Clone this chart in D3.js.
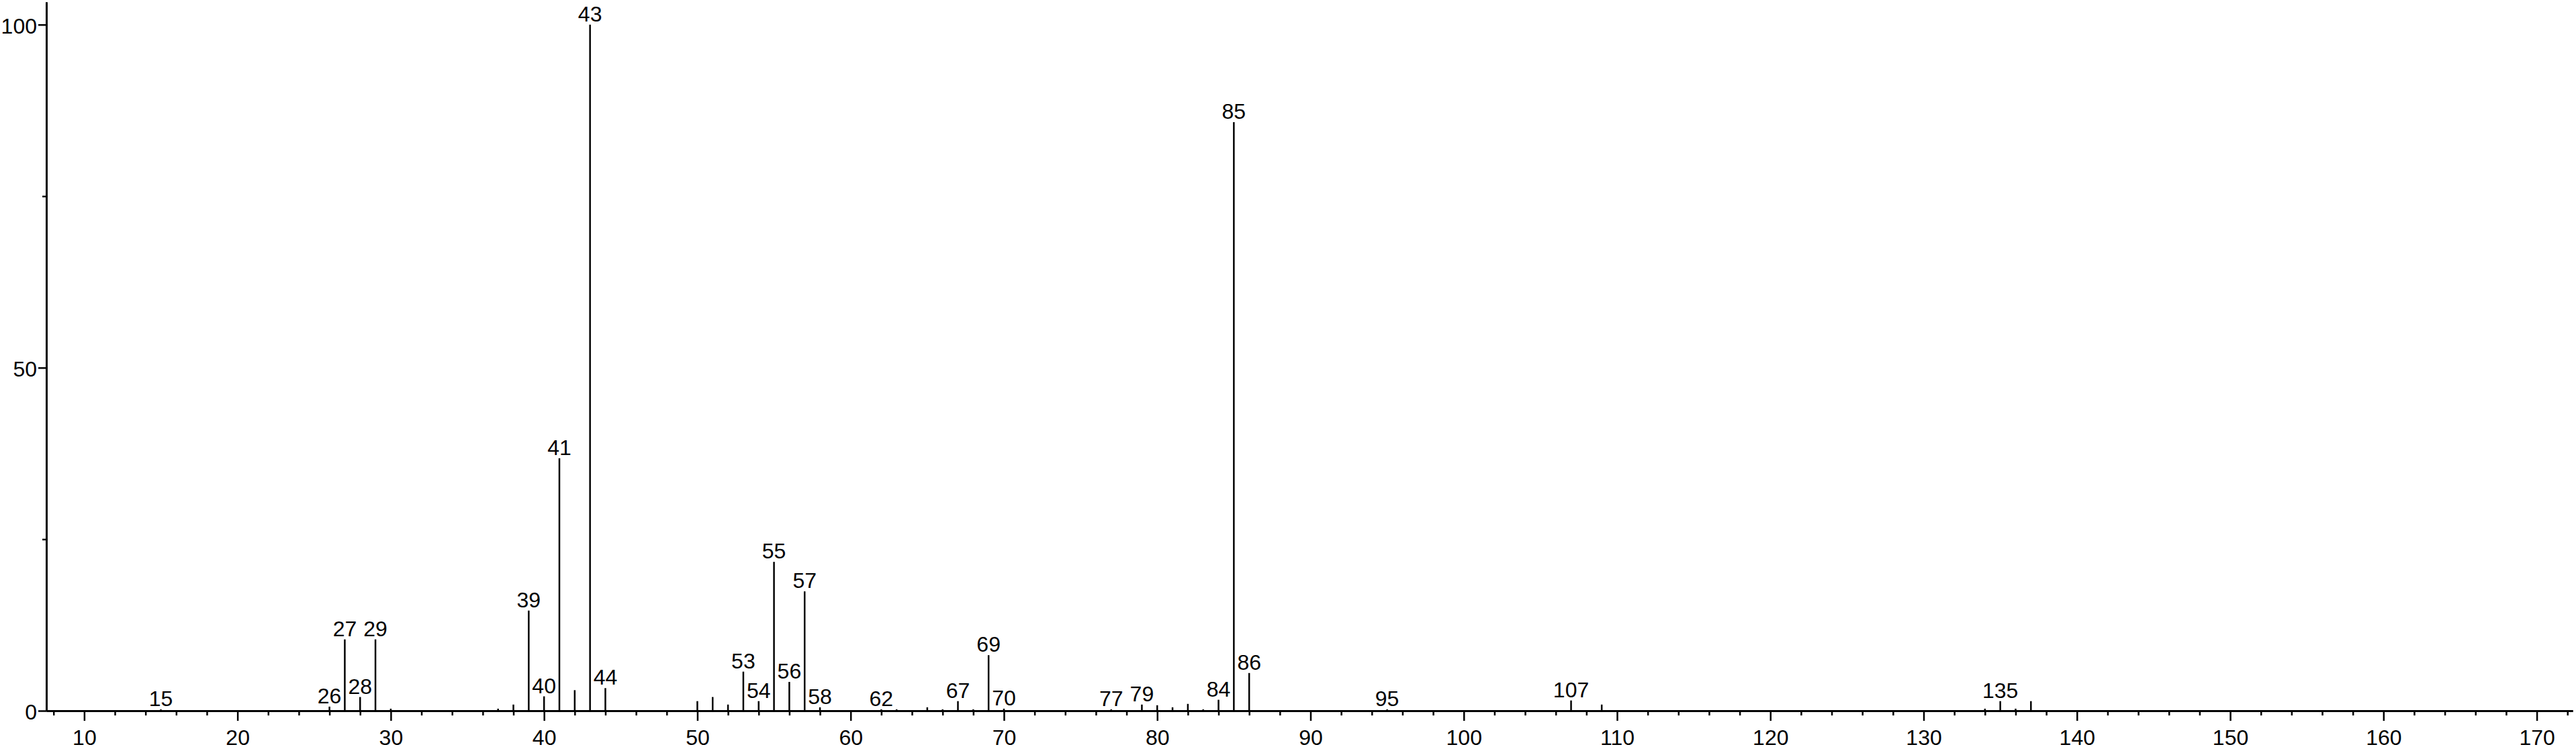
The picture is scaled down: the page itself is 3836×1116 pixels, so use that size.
<!DOCTYPE html>
<html>
<head>
	<meta charset="utf-8">
	<title>Mass spectrum</title>
	<script src="https://d3js.org/d3.v7.min.js"></script>
	<style>
		body {
		  margin: 0;
		  background: #fff;
		}
		svg {
		  display: block;
		}
		text {
		  font-family: "Liberation Sans", Arial, sans-serif;
		  font-size: 32px;
		  fill: #000;
		}
		.axis path, .axis line {
		  stroke: #000;
		  stroke-width: 2.5;
		}
		.axis path.domain {
		  stroke-width: 3;
		}
		line.peak {
		  stroke: #000;
		  stroke-width: 2.5;
		}
	</style>
</head>
<body>
	<svg id="chart"></svg>
</body>
<script>
	// m/z values and relative intensities (%)
	const mz = [ 15, 26, 27, 28, 29, 30, 37, 38, 39, 40, 41, 42, 43, 44,
	             50, 51, 52, 53, 54, 55, 56, 57, 58, 62, 63, 65, 66, 67, 68, 69, 70,
	             77, 79, 80, 81, 82, 83, 84, 85, 86, 95, 107, 109, 134, 135, 136, 137 ];
	const intensity = [ 0.2, 0.6, 10.4, 2.0, 10.4, 0.3, 0.3, 0.9, 14.6, 2.1, 36.8, 3.0, 100, 3.3,
	                    1.4, 2.0, 0.9, 5.7, 1.4, 21.7, 4.2, 17.4, 0.5, 0.2, 0.2, 0.5, 0.2, 1.4, 0.2, 8.1, 0.3,
	                    0.2, 0.9, 0.8, 0.5, 1.0, 0.2, 1.6, 85.8, 5.5, 0.2, 1.5, 0.9, 0.3, 1.4, 0.3, 1.4 ];
	// peaks that carry a label
	const labelled = [ 15, 26, 27, 28, 29, 39, 40, 41, 43, 44, 53, 54, 55, 56, 57, 58,
	                   62, 67, 69, 70, 77, 79, 84, 85, 86, 95, 107, 135 ];

	const xMajor = d3.range( 10, 171, 10 );
	const xMinor = d3.range( 8, 173, 2 ).filter( ( v ) => v % 10 !== 0 );
	const yMajor = [ 0, 50, 100 ];
	const yMinor = [ 25, 75 ];

	const W = 3836;
	const H = 1116;
	const plotLeft = 69, plotRight = 3831, plotTop = 3, plotBase = 1059;

	const svg = d3.select( '#chart' )
	  .attr( 'width', W )
	  .attr( 'height', H );

	const x = d3.scaleLinear()
	  .domain( [ 7.53, 172.34 ] )
	  .range( [ plotLeft, plotRight ] );

	const y = d3.scaleLinear()
	  .domain( [ 0, 103.3 ] )
	  .range( [ plotBase, plotTop ] );

	const peaks = mz.map( ( m, i ) => ( { mz : m, value : intensity[ i ] } ) );

	// peaks
	svg.append( 'g' )
	  .selectAll( 'line' )
	  .data( peaks )
	  .enter()
	  .append( 'line' )
	  .attr( 'class', 'peak' )
	  .attr( 'x1', ( d ) => x( d.mz ) )
	  .attr( 'x2', ( d ) => x( d.mz ) )
	  .attr( 'y1', y( 0 ) )
	  .attr( 'y2', ( d ) => y( d.value ) );

	// peak labels
	svg.append( 'g' )
	  .selectAll( 'text' )
	  .data( peaks.filter( ( d ) => labelled.includes( d.mz ) ) )
	  .enter()
	  .append( 'text' )
	  .attr( 'x', ( d ) => x( d.mz ) )
	  .attr( 'y', ( d ) => y( d.value ) - 5 )
	  .attr( 'text-anchor', 'middle' )
	  .text( ( d ) => d.mz );

	// x axis: minor ticks first, then major with labels
	svg.append( 'g' )
	  .attr( 'class', 'axis' )
	  .attr( 'transform', `translate( 0, ${ plotBase } )` )
	  .call( d3.axisBottom( x ).tickValues( xMinor ).tickSize( 7 ).tickSizeOuter( 0 ).tickFormat( '' ) );

	svg.append( 'g' )
	  .attr( 'class', 'axis' )
	  .attr( 'transform', `translate( 0, ${ plotBase } )` )
	  .call( d3.axisBottom( x ).tickValues( xMajor ).tickSize( 15 ).tickSizeOuter( 0 ).tickPadding( 13 ) );

	// y axis
	svg.append( 'g' )
	  .attr( 'class', 'axis' )
	  .attr( 'transform', `translate( ${ plotLeft }, 0 )` )
	  .call( d3.axisLeft( y ).tickValues( yMinor ).tickSize( 6 ).tickSizeOuter( 0 ).tickFormat( '' ) );

	svg.append( 'g' )
	  .attr( 'class', 'axis' )
	  .attr( 'transform', `translate( ${ plotLeft }, 0 )` )
	  .call( d3.axisLeft( y ).tickValues( yMajor ).tickSize( 12 ).tickSizeOuter( 0 ).tickPadding( 2 ) )
	  .call( ( g ) => g.selectAll( 'text' ).attr( 'dy', '0.4em' ) );

	// let the css font win over the axis defaults
	svg.selectAll( '.axis' ).attr( 'font-size', null ).attr( 'font-family', null );
</script>
</html>
